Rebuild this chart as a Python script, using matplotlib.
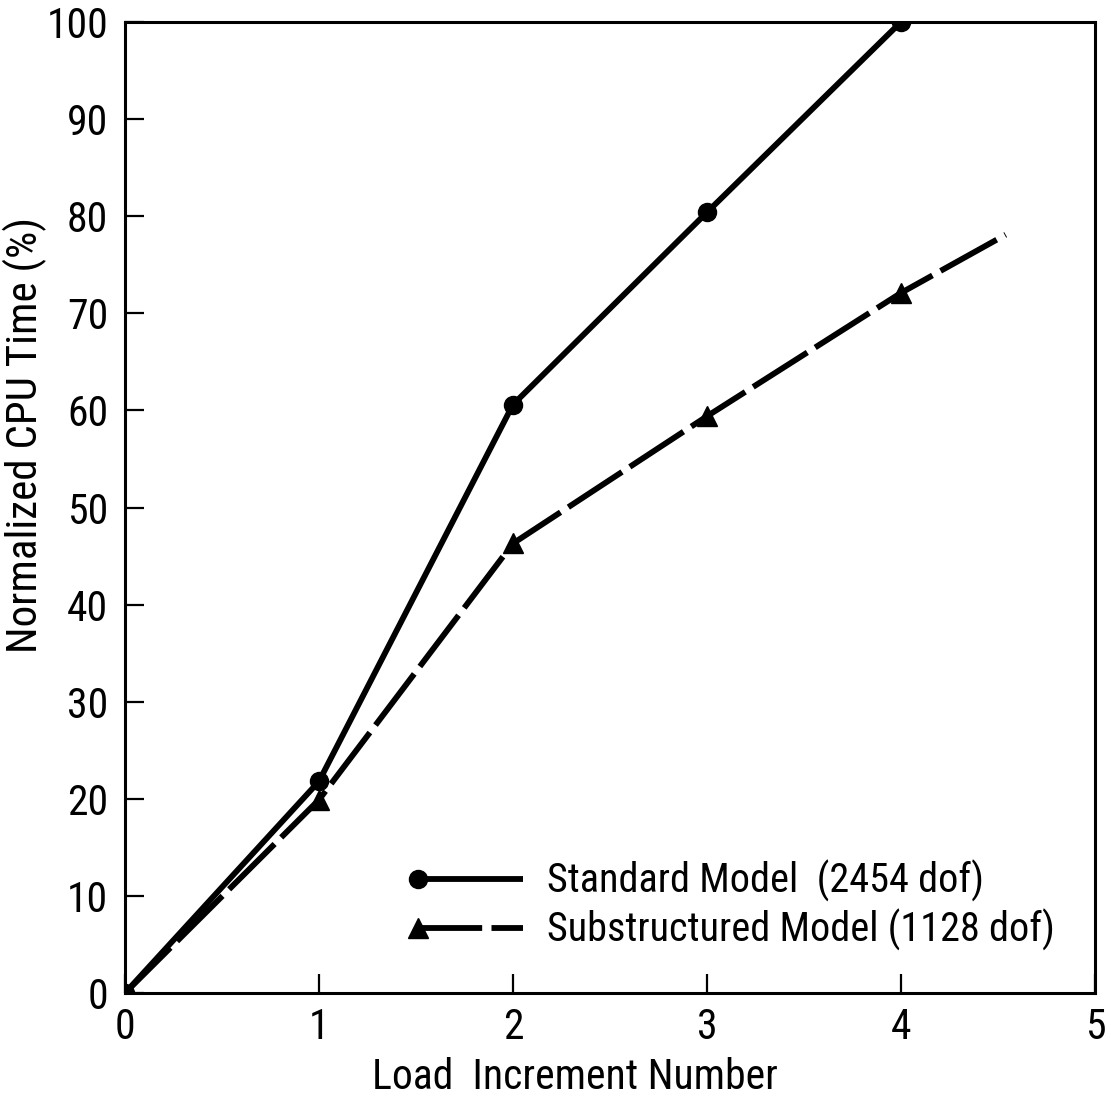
import matplotlib.pyplot as plt
from matplotlib.legend_handler import HandlerLine2D

plt.rcParams['font.family'] = ['Roboto Condensed', 'DejaVu Sans']

# data
load_inc = [0, 1, 2, 3, 4]
standard = [0, 21.8, 60.6, 80.4, 100]
sub_x = [0, 1, 2, 3, 4, 4.54]
substructured = [0, 19.9, 46.3, 59.4, 72.1, 78.1]

x_ticks = [0, 1, 2, 3, 4, 5]
y_ticks = [0, 10, 20, 30, 40, 50, 60, 70, 80, 90, 100]


class MarkerLeft(HandlerLine2D):
    # put the legend marker at the left end of the handle line
    def create_artists(self, *args, **kwargs):
        artists = super().create_artists(*args, **kwargs)
        artists[0].set_markevery([0])
        return artists


fig = plt.figure(figsize=(11.11, 11.03), dpi=100)
ax = fig.add_axes([0.1125, 0.0997, 0.873, 0.8803])

std_line, = ax.plot(load_inc, standard, color='black', lw=4.2, marker='o',
                    markersize=13, solid_capstyle='butt',
                    label='Standard Model  (2454 dof)')
sub_line, = ax.plot(sub_x, substructured, color='black', lw=4.2, marker='^',
                    markersize=14, markevery=[1, 2, 3, 4],
                    dashes=(11, 1.6), dash_capstyle='butt',
                    label='Substructured Model (1128 dof)')

ax.set_xlim(0, 5)
ax.set_ylim(0, 100)
ax.set_xticks(x_ticks)
ax.set_yticks(y_ticks)
ax.tick_params(direction='in', length=14, width=1.6, labelsize=30)
ax.tick_params(axis='x', pad=10)
ax.tick_params(axis='y', pad=12)
for s in ax.spines.values():
    s.set_linewidth(2.2)

ax.set_xlabel('Load  Increment Number', fontsize=30)
ax.set_ylabel('Normalized CPU Time (%)', fontsize=31)
ax.xaxis.set_label_coords(0.464, -0.066)
ax.yaxis.set_label_coords(-0.08, 0.575)

ax.legend(handler_map={std_line: MarkerLeft(numpoints=1), sub_line: MarkerLeft(numpoints=1)},
          loc='center left', bbox_to_anchor=(0.302, 0.09), frameon=False,
          fontsize=29, handlelength=2.6, handletextpad=0.6, labelspacing=0.18,
          borderpad=0, borderaxespad=0)

fig.savefig('out.png', dpi=100)
